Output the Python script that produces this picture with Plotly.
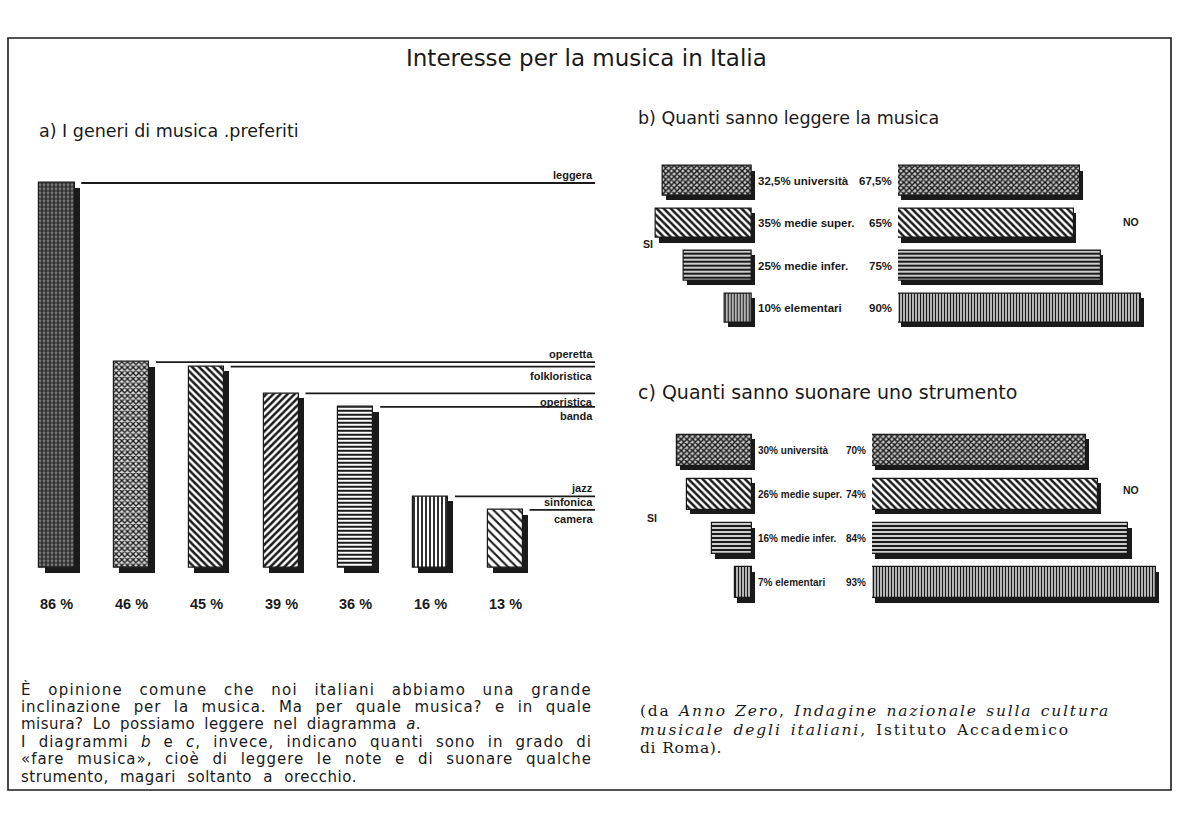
import json
import re
import plotly.graph_objects as go

W, H = 1187, 814

# ---------------- data ----------------
genres = ["leggera", "operetta", "folkloristica", "operistica", "banda", "jazz", "sinfonica / camera"]
genre_pct = [86, 46, 45, 39, 36, 16, 13]

levels = ["università", "medie super.", "medie infer.", "elementari"]
read_si = [32.5, 35, 25, 10]
read_no = [67.5, 65, 75, 90]
play_si = [30, 26, 16, 7]
play_no = [70, 74, 84, 93]

# ---------------- styles ----------------
genre_shapes = ["+", "x", "\\", "/", "-", "|", "\\"]
genre_sizes = [4, 4, 5, 5, 4, 4, 6]
genre_solid = [0.5, 0.55, 0.5, 0.5, 0.5, 0.45, 0.35]
genre_bg = ["#7a7a7a", "#dcdcdc", "white", "white", "white", "white", "white"]
# label placement relative to its leader line
label_side = ["above", "above", "below", "below", "below", "above", "above", "below"]

level_shapes = ["x", "\\", "-", "|"]
level_sizes = [4, 5, 4, 3]
level_solid = [0.6, 0.5, 0.55, 0.55]
level_bg = ["#c8c8c8", "white", "#e0e0e0", "white"]

SANS = "DejaVu Sans"
SERIF = "DejaVu Serif"
INK = "#1a1a1a"


def px(x):
    return x / W


def py(y):
    return 1 - y / H


def fmt(v):
    return f"{v:g}".replace(".", ",") + "%"


fig = go.Figure()

# ---------------- chart a ----------------
idx = list(range(len(genres)))
bw = 0.47
fig.add_trace(go.Bar(
    x=idx, y=genre_pct, base=-1, width=bw, offset=-bw / 2 + 0.07,
    marker=dict(color=INK, line=dict(width=0)),
    xaxis="x", yaxis="y", hoverinfo="skip", showlegend=False))
fig.add_trace(go.Bar(
    x=idx, y=genre_pct, width=bw, offset=-bw / 2,
    marker=dict(color="white", line=dict(color=INK, width=1.2),
                pattern=dict(shape=genre_shapes, size=genre_sizes, solidity=genre_solid,
                             fgcolor=INK, bgcolor=genre_bg, fillmode="replace")),
    xaxis="x", yaxis="y", showlegend=False, name="generi"))

XR_A = 7.2
lx, ly = [], []
for i, v in enumerate(genre_pct):
    lx += [i + bw / 2 + 0.09, XR_A, None]
    ly += [v, v, None]
fig.add_trace(go.Scatter(x=lx, y=ly, mode="lines", line=dict(color=INK, width=1.8),
                         xaxis="x", yaxis="y", hoverinfo="skip", showlegend=False))

annotations = []
k = 0
for i, (g, v) in enumerate(zip(genres, genre_pct)):
    for name in g.split(" / "):
        side = label_side[k]
        annotations.append(dict(
            x=XR_A, y=v, xref="x", yref="y", text=f"<b>{name}</b>", showarrow=False,
            xanchor="right", yanchor="bottom" if side == "above" else "top",
            yshift=0 if side == "above" else -1,
            font=dict(family="Liberation Sans", size=11, color=INK)))
        k += 1
    annotations.append(dict(
        x=i, y=py(604), xref="x", yref="paper", text=f"<b>{v} %</b>", showarrow=False,
        xanchor="center", yanchor="middle",
        font=dict(family="Liberation Sans", size=14.5, color=INK)))


# ---------------- charts b and c ----------------
def butterfly(si, no, xl, xr, ya, fsize):
    bh = 0.7
    for vals, ax, sh in ((si, xl, -1.1), (no, xr, 1.1)):
        fig.add_trace(go.Bar(
            y=levels, x=vals, base=sh, orientation="h", width=bh, offset=-bh / 2 + 0.1,
            marker=dict(color=INK, line=dict(width=0)),
            xaxis=ax, yaxis=ya, hoverinfo="skip", showlegend=False))
        fig.add_trace(go.Bar(
            y=levels, x=vals, orientation="h", width=bh, offset=-bh / 2,
            marker=dict(color="white", line=dict(color=INK, width=1.2),
                        pattern=dict(shape=level_shapes, size=level_sizes, solidity=level_solid,
                                     fgcolor=INK, bgcolor=level_bg, fillmode="replace")),
            xaxis=ax, yaxis=ya, showlegend=False))
    for lvl, s, n in zip(levels, si, no):
        annotations.append(dict(
            x=0, y=lvl, xref=xl, yref=ya, text=f"<b>{fmt(s)} {lvl}</b>", showarrow=False,
            xanchor="left", xshift=4, font=dict(family="Liberation Sans", size=fsize, color=INK)))
        annotations.append(dict(
            x=0, y=lvl, xref=xr, yref=ya, text=f"<b>{fmt(n)}</b>", showarrow=False,
            xanchor="right", xshift=-4, font=dict(family="Liberation Sans", size=fsize, color=INK)))


butterfly(read_si, read_no, "x2", "x3", "y2", 11.5)
butterfly(play_si, play_no, "x4", "x5", "y3", 10)

# ---------------- texts ----------------
stretch = {}


def txt(x, y, text, size, family=SANS, anchor="left", width=None, letter_share=0.4):
    annotations.append(dict(
        x=px(x), y=py(y), xref="paper", yref="paper", text=text, showarrow=False,
        xanchor=anchor, yanchor="middle", align="left",
        font=dict(family=family, size=size, color=INK)))
    if width:
        stretch[re.sub(r"<[^>]+>", "", text)] = [width, letter_share]


txt(586, 58, "Interesse per la musica in Italia", 23, anchor="center")
txt(37, 131, "a) I generi di musica .preferiti", 17.5)
txt(636, 118, "b) Quanti sanno leggere la musica", 17.5)
txt(636, 392, "c) Quanti sanno suonare uno strumento", 19)

for (x, y, t) in [(648, 244, "SI"), (1131, 222, "NO"), (652, 518, "SI"), (1131, 490, "NO")]:
    annotations.append(dict(x=px(x), y=py(y), xref="paper", yref="paper", text=f"<b>{t}</b>",
                            showarrow=False, xanchor="center", yanchor="middle",
                            font=dict(family="Liberation Sans", size=10.5, color=INK)))

para = [
    "È opinione comune che noi italiani abbiamo una grande",
    "inclinazione per la musica. Ma per quale musica? e in quale",
    "misura? Lo possiamo leggere nel diagramma <i>a</i>.",
    "I diagrammi <i>b</i> e <i>c</i>, invece, indicano quanti sono in grado di",
    "«fare musica», cioè di leggere le note e di suonare qualche",
    "strumento, magari soltanto a orecchio.",
]
para_w = [571, 571, 400, 571, 571, 336]
for j, line in enumerate(para):
    txt(19, 689 + j * 17.6, line, 15, width=para_w[j], letter_share=0.45)

cite = [
    "(da <i>Anno Zero</i>, <i>Indagine nazionale sulla cultura</i>",
    "<i>musicale degli italiani</i>, Istituto Accademico",
    "di Roma).",
]
cite_w = [470, 430, 82]
for j, line in enumerate(cite):
    txt(638, 711 + j * 18.5, line, 15.5, family=SERIF, width=cite_w[j], letter_share=0.9)

# ---------------- axes ----------------
def hid(**kw):
    d = dict(visible=False, showgrid=False, zeroline=False, fixedrange=True)
    d.update(kw)
    return d


unit_a = (568 - 183) / 86.0
layout_axes = dict(
    xaxis=hid(domain=[px(20), px(595)], range=[-0.495, XR_A], anchor="y"),
    yaxis=hid(domain=[py(568 + 1.5 * unit_a), py(183 - 0.5 * unit_a)], range=[-1.5, 86.5], anchor="x"),
    # chart b
    xaxis2=hid(domain=[px(752 - 55 * 2.75), px(752 + 2 * 2.75)], range=[55, -2], anchor="y2"),
    xaxis3=hid(domain=[px(898), px(898 + 100 * 2.7)], range=[0, 100], anchor="y2"),
    yaxis2=hid(domain=[py(308 + 21.3), py(181 - 21.3)], range=[3.5, -0.5], type="category",
               categoryorder="array", categoryarray=levels, anchor="x2"),
    # chart c
    xaxis4=hid(domain=[px(752 - 60 * 2.5), px(752 + 2 * 2.5)], range=[60, -2], anchor="y3"),
    xaxis5=hid(domain=[px(872), px(872 + 96 * 3.05)], range=[0, 96], anchor="y3"),
    yaxis3=hid(domain=[py(583 + 22), py(450 - 22)], range=[3.5, -0.5], type="category",
               categoryorder="array", categoryarray=levels, anchor="x4"),
)

fig.update_layout(
    width=W, height=H, autosize=False,
    margin=dict(l=0, r=0, t=0, b=0, pad=0),
    paper_bgcolor="white", plot_bgcolor="rgba(0,0,0,0)",
    barmode="overlay", bargap=0,
    showlegend=False,
    annotations=annotations,
    shapes=[dict(type="rect", xref="paper", yref="paper",
                 x0=px(8), x1=px(1171), y0=py(790), y1=py(38),
                 line=dict(color=INK, width=1.6), fillcolor="rgba(0,0,0,0)", layer="below")],
    **layout_axes,
)

# spread the running text to the printed line widths (letters + word gaps)
js = (
    "document.body.style.margin='0';document.body.style.overflow='hidden';"
    "(function(){var targets=" + json.dumps(stretch) + ";"
    "function fit(){var gd=document.getElementById('{plot_id}');if(!gd)return;"
    "gd.querySelectorAll('text.annotation-text').forEach(function(el){"
    "var t=el.textContent;if(!Object.prototype.hasOwnProperty.call(targets,t))return;"
    "var w=targets[t][0],share=targets[t][1];"
    "el.style.letterSpacing='0px';el.style.wordSpacing='0px';"
    "var len=el.getComputedTextLength();var extra=w-len;if(extra<=0)return;"
    "var ns=(t.match(/ /g)||[]).length;var nc=t.length;"
    "var ls=share*extra/nc;var ws=ns?(extra-ls*nc)/ns:0;"
    "el.style.letterSpacing=ls+'px';el.style.wordSpacing=ws+'px';});}"
    "fit();setTimeout(fit,30);setTimeout(fit,300);"
    "var g=document.getElementById('{plot_id}');if(g&&g.on){g.on('plotly_afterplot',fit);}})();"
)

fig.write_html("out.html", include_plotlyjs=True, config={"displayModeBar": False},
               post_script=js)
